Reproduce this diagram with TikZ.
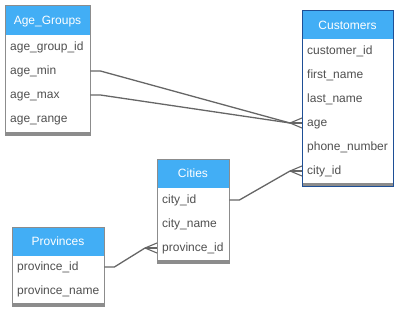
\documentclass[tikz,border=0pt]{standalone}
\usepackage{fontspec}
\setmainfont{Liberation Sans}
\definecolor{hdr}{HTML}{42AEF5}
\definecolor{frm}{HTML}{8C8C8C}
\definecolor{selfrm}{HTML}{1E4F96}
\definecolor{txt}{HTML}{505050}
\definecolor{cn}{HTML}{666666}
\begin{document}
\begin{tikzpicture}[x=1pt,y=-1pt,
  rowtxt/.style={anchor=west,inner xsep=5pt,inner ysep=0pt,font=\fontsize{12}{14}\selectfont,text=txt,text height=8.5pt,text depth=1.5pt},
  hdrtxt/.style={inner sep=0pt,font=\fontsize{12}{14}\selectfont,text=white,text height=8.6pt,text depth=0pt},
  conn/.style={draw=cn,line width=1.3pt},
  foot/.style={draw=cn,line width=1.1pt}]
\useasboundingbox (0,0) rectangle (402,313);
% Age_Groups
\fill[white] (5,6) rectangle (90,135);
\fill[hdr] (5,6) rectangle (90,35);
\fill[frm] (5,131.5) rectangle (90,135);
\draw[frm,line width=1pt] (5,6) rectangle (90,135);
\node[hdrtxt] (tag) at (47.5,20.5) {Age\_Groups};
\node[rowtxt,text width=75pt] (agid) at (5,47) {age\_group\_id};
\node[rowtxt,text width=75pt] (amin) at (5,71) {age\_min};
\node[rowtxt,text width=75pt] (amax) at (5,95) {age\_max};
\node[rowtxt,text width=75pt] (arng) at (5,119) {age\_range};
% Customers
\fill[white] (302,11) rectangle (393,186);
\fill[hdr] (302,11) rectangle (393,39);
\fill[frm] (302,182.5) rectangle (393,186);
\draw[selfrm,line width=1pt] (302,11) rectangle (393,186);
\node[hdrtxt] (tcu) at (347.5,25) {Customers};
\node[rowtxt,text width=81pt] (cid) at (302,51) {customer\_id};
\node[rowtxt,text width=81pt] (cfn) at (302,75) {first\_name};
\node[rowtxt,text width=81pt] (cln) at (302,99) {last\_name};
\node[rowtxt,text width=81pt] (cage) at (302,123) {age};
\node[rowtxt,text width=81pt] (cph) at (302,147) {phone\_number};
\node[rowtxt,text width=81pt] (ccity) at (302,171) {city\_id};
% Cities
\fill[white] (157,159) rectangle (229,263);
\fill[hdr] (157,159) rectangle (229,188);
\fill[frm] (157,259.5) rectangle (229,263);
\draw[frm,line width=1pt] (157,159) rectangle (229,263);
\node[hdrtxt] (tci) at (193,173.5) {Cities};
\node[rowtxt,text width=62pt] (tid) at (157,200) {city\_id};
\node[rowtxt,text width=62pt] (tnm) at (157,224) {city\_name};
\node[rowtxt,text width=62pt] (tpid) at (157,248) {province\_id};
% Provinces
\fill[white] (12,227) rectangle (104,306);
\fill[hdr] (12,227) rectangle (104,256);
\fill[frm] (12,302.5) rectangle (104,306);
\draw[frm,line width=1pt] (12,227) rectangle (104,306);
\node[hdrtxt] (tpr) at (58,241.5) {Provinces};
\node[rowtxt,text width=82pt] (pid) at (12,267) {province\_id};
\node[rowtxt,text width=82pt] (pnm) at (12,291) {province\_name};
% connectors
\coordinate (ageft) at ([xshift=-12pt]cage.west);
\coordinate (cityft) at ([xshift=-12pt]ccity.west);
\coordinate (provft) at ([xshift=-12pt]tpid.west);
\draw[conn] (amin.east) -- ++(10,0) -- (ageft);
\draw[conn] (amax.east) -- ++(10,0) -- (ageft);
\draw[conn] (tid.east) -- ++(10,0) -- (cityft);
\draw[conn] (pid.east) -- ++(10,0) -- (provft);
\foreach \f/\t in {ageft/cage,cityft/ccity,provft/tpid}{
  \draw[foot] (\f) -- ([yshift=5pt]\t.west);
  \draw[foot] (\f) -- (\t.west);
  \draw[foot] (\f) -- ([yshift=-5pt]\t.west);
}
\end{tikzpicture}
\end{document}
